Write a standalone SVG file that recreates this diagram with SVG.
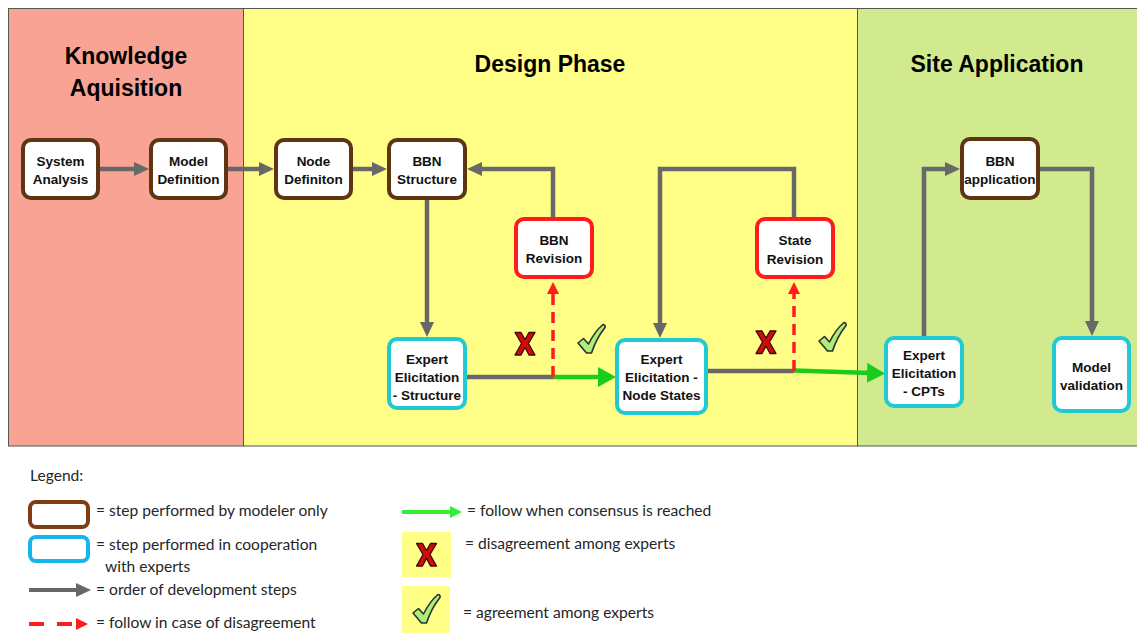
<svg xmlns="http://www.w3.org/2000/svg" width="1137" height="634" viewBox="0 0 1137 634">
<style>
.title{font-family:"Liberation Sans",Arial,sans-serif;font-weight:bold;font-size:23px;fill:#000;text-anchor:middle}
.nt{font-family:"Liberation Sans",Arial,sans-serif;font-weight:bold;font-size:13.5px;fill:#111;text-anchor:middle}
.lg{font-family:Lato,"Open Sans",sans-serif;font-size:15.6px;fill:#262626}
.box{fill:#fff;stroke-width:4}
.brown{stroke:#5e3412}
.cyan{stroke:#22c8d2}
.red{stroke:#ff1c1c}
.gray{fill:none;stroke:#686868;stroke-width:4.5}
.green{fill:none;stroke:#1ccc1c;stroke-width:4.5}
.dash{fill:none;stroke:#ff1c1c;stroke-width:3.5;stroke-dasharray:11,7}
.xm{fill:#d10b0b;stroke:#3a0a0a;stroke-width:1.3;stroke-linejoin:round}
.ck{fill:#a9ef78;stroke:#2f2f2f;stroke-width:1.6;stroke-linejoin:round}
</style>
<defs>
<marker id="ag" viewBox="0 0 15 14" refX="3" refY="7" markerWidth="15" markerHeight="14" markerUnits="userSpaceOnUse" orient="auto"><path d="M0,0 L15,7 L0,14 Z" fill="#686868"/></marker>
<marker id="agr" viewBox="0 0 18 20" refX="3" refY="10" markerWidth="18" markerHeight="20" markerUnits="userSpaceOnUse" orient="auto"><path d="M0,0 L18,10 L0,20 Z" fill="#1ccc1c"/></marker>
<marker id="agl" viewBox="0 0 12 12" refX="3" refY="6" markerWidth="12" markerHeight="12" markerUnits="userSpaceOnUse" orient="auto"><path d="M0,0 L12,6 L0,12 Z" fill="#33ee33"/></marker>
<marker id="ar" viewBox="0 0 12 12" refX="3" refY="6" markerWidth="12" markerHeight="12" markerUnits="userSpaceOnUse" orient="auto"><path d="M0,0 L12,6 L0,12 Z" fill="#ff1c1c"/></marker>
<g id="xmark"><path class="xm" d="M-10,-11 L-4,-11 L0,-4 L4,-11 L10,-11 L3.5,0 L10,11.5 L4,11.5 L0,4 L-4,11.5 L-10,11.5 L-3.5,0 Z"/></g>
<g id="check"><path class="ck" d="M-13,3 L-7.5,-1.5 L-2.5,4 C1.5,-4 6.5,-11 12,-15.5 C13.5,-15.5 14.5,-14 14,-12.5 C8,-5 3.5,4 0.5,13 L-4.5,13 Z"/></g>
</defs>

<!-- panels -->
<g id="panels">
<rect x="8.5" y="8.5" width="235" height="437.5" fill="#f9a394" stroke="#555" stroke-width="1"/>
<rect x="243.5" y="8.5" width="614" height="437.5" fill="#ffff88" stroke="#555" stroke-width="1"/>
<rect x="857.5" y="8.5" width="290" height="437.5" fill="#d1ea8e" stroke="#555" stroke-width="1"/>
<text class="title" x="126" y="64">Knowledge</text>
<text class="title" x="126" y="96">Aquisition</text>
<text class="title" x="550" y="72">Design Phase</text>
<text class="title" x="997" y="72">Site Application</text>
</g>

<!-- connectors -->
<g id="connectors">
<path class="gray" d="M99,169 H137" marker-end="url(#ag)"/>
<path class="gray" d="M227,169 H262" marker-end="url(#ag)"/>
<path class="gray" d="M352,169 H375" marker-end="url(#ag)"/>
<path class="gray" d="M427,199 V325" marker-end="url(#ag)"/>
<path class="gray" d="M553,218 V169 H479" marker-end="url(#ag)"/>
<path class="gray" d="M466,377 H553"/>
<path class="green" d="M553,377 H601" marker-end="url(#agr)"/>
<path class="dash" d="M553,377 V291" marker-end="url(#ar)"/>
<path class="gray" d="M794,218 V169 H660 V326" marker-end="url(#ag)"/>
<path class="gray" d="M707,371 H794"/>
<path class="green" d="M794,370.5 L870,373" marker-end="url(#agr)"/>
<path class="dash" d="M794,371 V291" marker-end="url(#ar)"/>
<path class="gray" d="M924,337 V169 H948" marker-end="url(#ag)"/>
<path class="gray" d="M1039,169 H1092 V324" marker-end="url(#ag)"/>
<use href="#xmark" x="525" y="343.5"/>
<use href="#check" x="591" y="340"/>
<use href="#xmark" x="766" y="342"/>
<use href="#check" x="832" y="338"/>
</g>

<!-- nodes -->
<g id="system-analysis"><rect class="box brown" x="23" y="140" width="75" height="58" rx="8"/><text class="nt" x="60.5" y="166">System</text><text class="nt" x="60.5" y="184">Analysis</text></g>
<g id="model-definition"><rect class="box brown" x="151" y="140" width="75" height="58" rx="8"/><text class="nt" x="188.5" y="166">Model</text><text class="nt" x="188.5" y="184">Definition</text></g>
<g id="node-definiton"><rect class="box brown" x="276" y="140" width="75" height="58" rx="8"/><text class="nt" x="313.5" y="166">Node</text><text class="nt" x="313.5" y="184">Definiton</text></g>
<g id="bbn-structure"><rect class="box brown" x="389" y="140" width="76" height="58" rx="8"/><text class="nt" x="427" y="166">BBN</text><text class="nt" x="427" y="184">Structure</text></g>
<g id="bbn-revision"><rect class="box red" x="516" y="219" width="76" height="58" rx="8"/><text class="nt" x="554" y="245">BBN</text><text class="nt" x="554" y="263">Revision</text></g>
<g id="expert-structure"><rect class="box cyan" x="389" y="339" width="76" height="69" rx="8"/><text class="nt" x="427" y="364">Expert</text><text class="nt" x="427" y="382">Elicitation</text><text class="nt" x="427" y="400">- Structure</text></g>
<g id="expert-node-states"><rect class="box cyan" x="617" y="340" width="89" height="73" rx="8"/><text class="nt" x="661.5" y="364">Expert</text><text class="nt" x="661.5" y="382">Elicitation -</text><text class="nt" x="661.5" y="400">Node States</text></g>
<g id="state-revision"><rect class="box red" x="757" y="219" width="76" height="58" rx="8"/><text class="nt" x="795" y="245">State</text><text class="nt" x="795" y="264">Revision</text></g>
<g id="bbn-application"><rect class="box brown" x="962" y="139" width="76" height="59" rx="8"/><text class="nt" x="1000" y="166">BBN</text><text class="nt" x="1000" y="184">application</text></g>
<g id="expert-cpts"><rect class="box cyan" x="886" y="338" width="76" height="68" rx="8"/><text class="nt" x="924" y="360">Expert</text><text class="nt" x="924" y="378">Elicitation</text><text class="nt" x="924" y="396">- CPTs</text></g>
<g id="model-validation"><rect class="box cyan" x="1054" y="338" width="75" height="73" rx="8"/><text class="nt" x="1091.5" y="372">Model</text><text class="nt" x="1091.5" y="390">validation</text></g>

<!-- legend -->
<g id="legend">
<text class="lg" x="30" y="481">Legend:</text>
<rect x="30" y="502" width="58" height="25" rx="6" fill="#fff" stroke="#7e3c12" stroke-width="4"/>
<text class="lg" x="96" y="516">= step performed by modeler only</text>
<rect x="30" y="537" width="58" height="24" rx="6" fill="#fff" stroke="#16b4ec" stroke-width="4"/>
<text class="lg" x="96" y="550">= step performed in cooperation</text>
<text class="lg" x="105" y="572">with experts</text>
<path d="M29,590 H79" fill="none" stroke="#686868" stroke-width="4" marker-end="url(#ag)"/>
<text class="lg" x="96" y="595">= order of development steps</text>
<path d="M29,624 H79" fill="none" stroke="#ff1c1c" stroke-width="4" stroke-dasharray="15,13" marker-end="url(#ar)"/>
<text class="lg" x="96" y="628">= follow in case of disagreement</text>
<path d="M402,512 H453" fill="none" stroke="#33ee33" stroke-width="4" marker-end="url(#agl)"/>
<text class="lg" x="467" y="516">= follow when consensus is reached</text>
<rect x="402" y="532" width="49" height="45" fill="#ffff88"/>
<use href="#xmark" x="426.5" y="554.5"/>
<text class="lg" x="465" y="549">= disagreement among experts</text>
<rect x="402" y="586" width="48" height="47" fill="#ffff88"/>
<use href="#check" x="426" y="610"/>
<text class="lg" x="463" y="618">= agreement among experts</text>
</g>
</svg>
